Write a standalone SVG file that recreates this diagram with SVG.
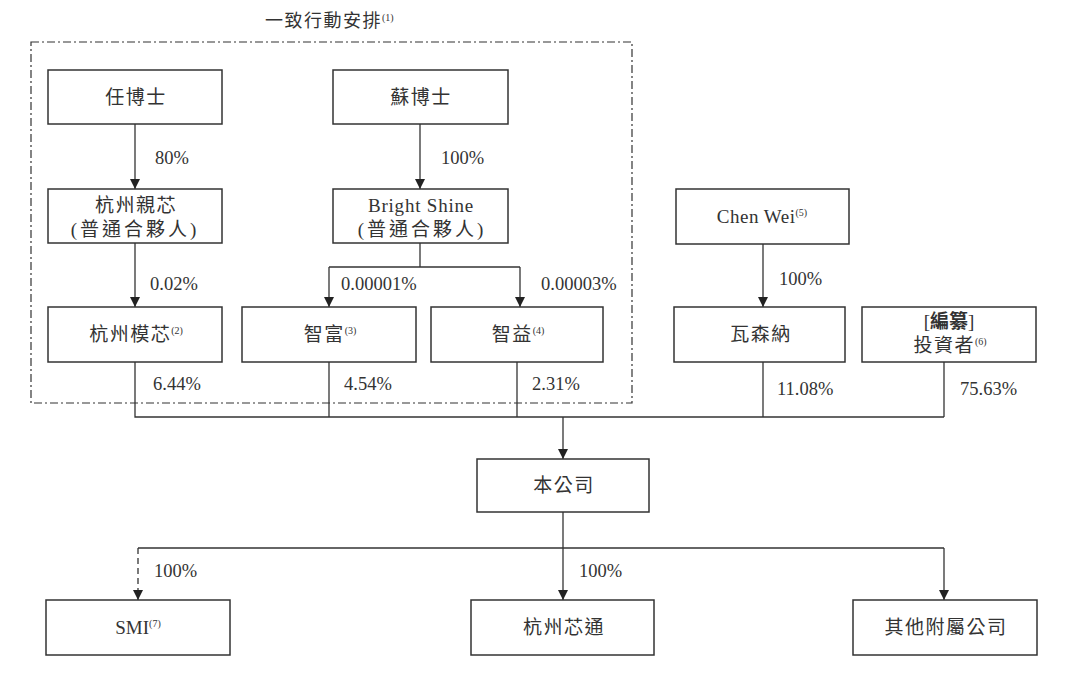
<svg xmlns="http://www.w3.org/2000/svg" width="1080" height="683" viewBox="0 0 1080 683">
<defs>
<marker id="arr" markerWidth="12" markerHeight="12" refX="10" refY="5" orient="auto" markerUnits="userSpaceOnUse">
<path d="M0,0 L10,5 L0,10 Z" fill="#222"/>
</marker>
<style>
.box{fill:#fff;stroke:#333;stroke-width:1.5}
.t{font-family:"Liberation Serif","Noto Sans CJK TC",serif;font-size:19px;fill:#333;text-anchor:middle}
.cj{letter-spacing:1.5px}
.lbl{font-family:"Liberation Serif","Noto Sans CJK TC",serif;font-size:18.5px;fill:#333}
.sup{font-size:10px;letter-spacing:0}
.ln{fill:none;stroke:#333;stroke-width:1.3}
.ar{fill:none;stroke:#333;stroke-width:1.3;marker-end:url(#arr)}
</style>
</defs>
<rect width="1080" height="683" fill="#fff"/>

<g id="concert">
<rect x="31" y="42" width="601" height="361" fill="none" stroke="#333" stroke-width="1.2" stroke-dasharray="8,3,2,3"/>
<text class="lbl" x="265" y="27" style="font-size:18px;letter-spacing:1.5px">一致行動安排<tspan class="sup" dy="-6">(1)</tspan></text>
</g>

<g id="connectors">
<line class="ar" x1="135" y1="124" x2="135" y2="189"/>
<line class="ar" x1="420" y1="124" x2="420" y2="189"/>
<line class="ar" x1="135" y1="243" x2="135" y2="307"/>
<polyline class="ln" points="420,243 420,267"/>
<polyline class="ar" points="329,267 329,307"/>
<polyline class="ar" points="520,267 520,307"/>
<line class="ln" x1="329" y1="267" x2="520" y2="267"/>
<line class="ar" x1="763" y1="244" x2="763" y2="307"/>
<polyline class="ln" points="135,362 135,417 944,417"/>
<line class="ln" x1="329" y1="362" x2="329" y2="417"/>
<line class="ln" x1="517" y1="362" x2="517" y2="417"/>
<line class="ln" x1="763" y1="362" x2="763" y2="417"/>
<line class="ln" x1="944" y1="362" x2="944" y2="417"/>
<line class="ar" x1="563" y1="417" x2="563" y2="459"/>
<line class="ln" x1="563" y1="512" x2="563" y2="548"/>
<line class="ln" x1="138" y1="548" x2="944" y2="548"/>
<line class="ar" x1="138" y1="548" x2="138" y2="600" stroke-dasharray="6,4"/>
<line class="ar" x1="563" y1="548" x2="563" y2="600"/>
<line class="ar" x1="944" y1="548" x2="944" y2="600"/>
<text class="lbl" x="155" y="164">80%</text>
<text class="lbl" x="441" y="164">100%</text>
<text class="lbl" x="150" y="290">0.02%</text>
<text class="lbl" x="341" y="290">0.00001%</text>
<text class="lbl" x="541" y="290">0.00003%</text>
<text class="lbl" x="779" y="285">100%</text>
<text class="lbl" x="153" y="390">6.44%</text>
<text class="lbl" x="344" y="390">4.54%</text>
<text class="lbl" x="532" y="390">2.31%</text>
<text class="lbl" x="777" y="395">11.08%</text>
<text class="lbl" x="960" y="395">75.63%</text>
<text class="lbl" x="154" y="577">100%</text>
<text class="lbl" x="579" y="577">100%</text>
</g>

<g id="ren">
<rect class="box" x="48" y="70" width="174" height="54"/>
<text class="t cj" x="136" y="104">任博士</text>
</g>
<g id="su">
<rect class="box" x="333" y="70" width="175" height="54"/>
<text class="t cj" x="421" y="104">蘇博士</text>
</g>
<g id="hzqx">
<rect class="box" x="48" y="189" width="174" height="54"/>
<text class="t cj" x="136" y="212">杭州親芯</text>
<text class="t" x="135" y="236" style="letter-spacing:3px">(普通合夥人)</text>
</g>
<g id="bright">
<rect class="box" x="333" y="189" width="175" height="54"/>
<text class="t" x="421" y="212" style="letter-spacing:0.8px">Bright Shine</text>
<text class="t" x="422" y="236" style="letter-spacing:3px">(普通合夥人)</text>
</g>
<g id="hzmx">
<rect class="box" x="48" y="307" width="174" height="55"/>
<text class="t cj" x="136" y="341">杭州模芯<tspan class="sup" dy="-7">(2)</tspan></text>
</g>
<g id="zhifu">
<rect class="box" x="242" y="307" width="174" height="55"/>
<text class="t cj" x="330" y="341">智富<tspan class="sup" dy="-7">(3)</tspan></text>
</g>
<g id="zhiyi">
<rect class="box" x="431" y="307" width="172" height="55"/>
<text class="t cj" x="518" y="341">智益<tspan class="sup" dy="-7">(4)</tspan></text>
</g>
<g id="chenwei">
<rect class="box" x="676" y="189" width="173" height="55"/>
<text class="t" x="762" y="223" style="letter-spacing:0.5px">Chen Wei<tspan class="sup" dy="-7">(5)</tspan></text>
</g>
<g id="wassena">
<rect class="box" x="674" y="307" width="171" height="55"/>
<text class="t cj" x="761" y="341">瓦森納</text>
</g>
<g id="investors">
<rect class="box" x="862" y="307" width="174" height="55"/>
<text class="t" x="949" y="328">[<tspan font-weight="bold">編纂</tspan>]</text>
<text class="t cj" x="950" y="352">投資者<tspan class="sup" dy="-7">(6)</tspan></text>
</g>
<g id="company">
<rect class="box" x="477" y="459" width="172" height="53"/>
<text class="t cj" x="564" y="492">本公司</text>
</g>
<g id="smi">
<rect class="box" x="46" y="600" width="184" height="55"/>
<text class="t" x="138" y="634">SMI<tspan class="sup" dy="-7">(7)</tspan></text>
</g>
<g id="hzxt">
<rect class="box" x="471" y="600" width="183" height="55"/>
<text class="t cj" x="564" y="634">杭州芯通</text>
</g>
<g id="others">
<rect class="box" x="853" y="600" width="184" height="55"/>
<text class="t cj" x="946" y="634">其他附屬公司</text>
</g>
</svg>
